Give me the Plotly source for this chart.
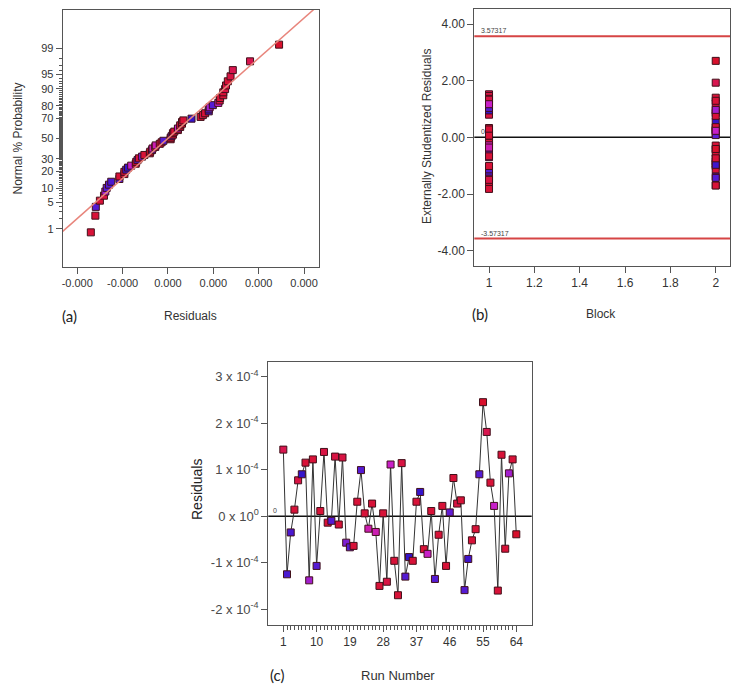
import plotly.graph_objects as go
from statistics import NormalDist, mean, pstdev

# ---------------- data ----------------
runs = list(range(1, 65))
# residuals per run
residuals = [
    1.43e-4, -1.25e-4, -0.35e-4, 0.14e-4, 0.77e-4, 0.90e-4, 1.15e-4, -1.38e-4,
    1.22e-4, -1.07e-4, 0.11e-4, 1.38e-4, -0.14e-4, -0.10e-4, 1.28e-4, -0.18e-4,
    1.26e-4, -0.57e-4, -0.67e-4, -0.64e-4, 0.31e-4, 0.99e-4, 0.06e-4, -0.27e-4,
    0.27e-4, -0.34e-4, -1.50e-4, 0.06e-4, -1.41e-4, 1.11e-4, -0.96e-4, -1.70e-4,
    1.14e-4, -1.30e-4, -0.88e-4, -0.96e-4, 0.31e-4, 0.52e-4, -0.71e-4, -0.81e-4,
    0.11e-4, -1.35e-4, -0.40e-4, 0.22e-4, -1.07e-4, 0.08e-4, 0.82e-4, 0.27e-4,
    0.34e-4, -1.59e-4, -0.92e-4, -0.52e-4, -0.28e-4, 0.90e-4, 2.45e-4, 1.81e-4,
    0.72e-4, 0.22e-4, -1.60e-4, 1.32e-4, -0.70e-4, 0.92e-4, 1.22e-4, -0.39e-4,
]
# externally studentized residuals per run
studentized = [
    1.52, -1.33, -0.37, 0.15, 0.80, 0.95, 1.22, -1.46,
    1.29, -1.13, 0.12, 1.46, -0.15, -0.11, 1.36, -0.19,
    1.33, -0.60, -0.70, -0.67, 0.33, 1.04, 0.06, -0.28,
    0.28, -0.36, -1.59, 0.06, -1.50, 1.17, -1.01, -1.82,
    1.20, -1.38, -0.93, -1.01, 0.33, 0.55, -0.75, -0.85,
    0.12, -1.43, -0.42, 0.23, -1.13, 0.08, 0.86, 0.28,
    0.36, -1.69, -0.97, -0.55, -0.29, 0.95, 2.70, 1.93,
    0.76, 0.23, -1.70, 1.40, -0.74, 0.97, 1.29, -0.41,
]
block = [1] * 32 + [2] * 32
# colour level of each run's marker (0 = blue ... 1 = red)
color_level = [
    0.85, 0.15, 0.15, 0.95, 0.90, 0.05, 0.95, 0.45,
    0.95, 0.20, 0.95, 0.90, 0.95, 0.20, 0.90, 0.95,
    0.90, 0.35, 0.20, 0.95, 0.95, 0.20, 0.95, 0.60,
    0.95, 0.60, 0.95, 0.95, 0.90, 0.55, 0.95, 0.95,
    0.90, 0.20, 0.05, 0.95, 0.95, 0.05, 0.95, 0.55,
    0.95, 0.20, 0.95, 0.95, 0.95, 0.25, 0.95, 0.90,
    0.95, 0.20, 0.10, 0.95, 0.95, 0.20, 1.00, 0.85,
    0.95, 0.55, 0.95, 0.95, 0.95, 0.45, 0.95, 1.00,
]
prob_labels = [1, 5, 10, 20, 30, 50, 70, 80, 90, 95, 99]
prob_minor = list(range(1, 100))
resid_ticks = [-2e-4, -1e-4, 0, 1e-4, 2e-4, 3e-4]
stud_ticks = [-4, -2, 0, 2, 4]
block_ticks = [1, 1.2, 1.4, 1.6, 1.8, 2]
run_ticks = [1, 10, 19, 28, 37, 46, 55, 64]
resid_c_ticks = [-2e-4, -1e-4, 0, 1e-4, 2e-4, 3e-4]
resid_c_text = ["-2 x 10<sup>-4</sup>", "-1 x 10<sup>-4</sup>", "0 x 10<sup>0</sup>",
                "1 x 10<sup>-4</sup>", "2 x 10<sup>-4</sup>", "3 x 10<sup>-4</sup>"]
limit = 3.57317

# ---------------- derived (normal probability scale) ----------------
nd = NormalDist()
n = len(residuals)
order = sorted(range(n), key=lambda i: residuals[i])
sorted_res = [residuals[i] for i in order]
sorted_col = [color_level[i] for i in order]
z_vals = [nd.inv_cdf((k + 0.5) / n) for k in range(n)]
prob_tickvals = [nd.inv_cdf(p / 100) for p in prob_labels]
minor_vals = [nd.inv_cdf(p / 100) for p in prob_minor]
mu, sd = mean(residuals), pstdev(residuals)

# page body has an 8px margin: work in window pixel coordinates
OFF = 8
W, H = 743 - 2 * OFF, 693 - 2 * OFF
def fx(x): return (x - OFF) / W
def fy(y): return 1 - (y - OFF) / H

cs = [[0, "#2a12c8"], [0.3, "#6a1fd8"], [0.55, "#c81fc8"], [0.8, "#d8185a"], [1, "#d8102c"]]
FONT = "Liberation Sans, Arial, sans-serif"
mk = dict(symbol="square", size=7, colorscale=cs, cmin=0, cmax=1,
          line=dict(color="#40101a", width=1))

fig = go.Figure()

# (a) normal probability plot (reference line drawn on the minor-tick overlay axis, same range)
xa_rng = [-2.32e-4, 3.33e-4]
fig.add_trace(go.Scatter(
    x=xa_rng, y=[(v - mu) / sd for v in xa_rng], mode="lines",
    line=dict(color="#e8857c", width=1.5), xaxis="x", yaxis="y4", hoverinfo="skip"))
fig.add_trace(go.Scatter(
    x=sorted_res, y=z_vals, mode="markers",
    marker=dict(mk, color=sorted_col), xaxis="x", yaxis="y"))

# (b) studentized vs block
fig.add_trace(go.Scatter(
    x=block, y=studentized, mode="markers",
    marker=dict(mk, color=color_level), xaxis="x2", yaxis="y2"))

# (c) residuals vs run (on the minor-tick overlay x axis, same range as x3)
fig.add_trace(go.Scatter(
    x=runs, y=residuals, mode="lines+markers",
    line=dict(color="#333333", width=1),
    marker=dict(mk, color=color_level), xaxis="x5", yaxis="y3"))

ax_common = dict(showline=True, mirror=True, linecolor="#555555", linewidth=1,
                 showgrid=False, zeroline=False, ticks="outside", ticklen=6,
                 tickcolor="#555555", tickfont=dict(family=FONT, size=11, color="#333333"))
minor_ax = dict(showline=False, showgrid=False, zeroline=False, ticks="outside",
                tickcolor="#555555", showticklabels=False, tickmode="array")

dom_a_x, dom_a_y = [fx(62.7), fx(319)], [fy(267), fy(10)]
dom_b_x, dom_b_y = [fx(474.3), fx(730)], [fy(265.7), fy(9.3)]
dom_c_x, dom_c_y = [fx(268.3), fx(531.7)], [fy(625), fy(361.7)]
ya_rng = [-3.31, 3.31]
xc_rng = [-3.06, 68.16]

fig.update_layout(
    width=W, height=H, margin=dict(l=0, r=0, t=0, b=0),
    paper_bgcolor="white", plot_bgcolor="white", showlegend=False,
    font=dict(family=FONT, color="#333333"),
    xaxis=dict(ax_common, domain=dom_a_x, range=xa_rng, anchor="y",
               tickmode="array", tickvals=resid_ticks,
               ticktext=[f"{v:.3f}" for v in resid_ticks]),
    yaxis=dict(ax_common, domain=dom_a_y, range=ya_rng, anchor="x",
               tickmode="array", tickvals=prob_tickvals, ticktext=[str(p) for p in prob_labels]),
    yaxis4=dict(minor_ax, overlaying="y", anchor="x", side="left", range=ya_rng,
                tickvals=minor_vals, ticklen=3),
    xaxis2=dict(ax_common, domain=dom_b_x, range=[0.935, 2.063], anchor="y2",
                tickmode="array", tickvals=block_ticks, ticktext=[f"{v:g}" for v in block_ticks],
                tickfont=dict(family=FONT, size=12, color="#333333")),
    yaxis2=dict(ax_common, domain=dom_b_y, range=[-4.53, 4.52], anchor="x2",
                tickmode="array", tickvals=stud_ticks, ticktext=[f"{v:.2f}" for v in stud_ticks],
                tickfont=dict(family=FONT, size=12, color="#333333")),
    xaxis3=dict(ax_common, domain=dom_c_x, range=xc_rng, anchor="y3", ticklen=6,
                tickmode="array", tickvals=run_ticks, ticktext=[str(v) for v in run_ticks],
                tickfont=dict(family=FONT, size=12, color="#333333")),
    xaxis5=dict(minor_ax, overlaying="x3", anchor="y3", side="bottom", range=xc_rng,
                tickvals=runs, ticklen=4),
    yaxis3=dict(ax_common, domain=dom_c_y, range=[-2.34e-4, 3.32e-4], anchor="x3",
                tickmode="array", tickvals=resid_c_ticks, ticktext=resid_c_text,
                tickfont=dict(family=FONT, size=13, color="#4a4a4a")),
)

# reference lines
fig.add_shape(type="line", xref="x2 domain", yref="y2", x0=0, x1=1, y0=limit, y1=limit,
              line=dict(color="#d64545", width=2))
fig.add_shape(type="line", xref="x2 domain", yref="y2", x0=0, x1=1, y0=-limit, y1=-limit,
              line=dict(color="#d64545", width=2))
fig.add_shape(type="line", xref="x2 domain", yref="y2", x0=0, x1=1, y0=0, y1=0,
              line=dict(color="#111111", width=1.5), layer="below")
fig.add_shape(type="line", xref="x3 domain", yref="y3", x0=0, x1=1, y0=0, y1=0,
              line=dict(color="#111111", width=1.5), layer="below")

small = dict(family=FONT, size=7, color="#444444")
fig.add_annotation(x=0.955, y=limit, xref="x2", yref="y2", text=f"{limit:.5f}",
                   showarrow=False, xanchor="left", yanchor="bottom", font=small)
fig.add_annotation(x=0.955, y=-limit, xref="x2", yref="y2", text=f"{-limit:.5f}",
                   showarrow=False, xanchor="left", yanchor="bottom", font=small)
fig.add_annotation(x=0.955, y=0, xref="x2", yref="y2", text="0",
                   showarrow=False, xanchor="left", yanchor="bottom", font=small)
fig.add_annotation(x=-2.2, y=0, xref="x3", yref="y3", text="0",
                   showarrow=False, xanchor="left", yanchor="bottom", font=small)

def label(text, x, y, size=12, angle=0, family=FONT, color="#333333"):
    fig.add_annotation(x=fx(x), y=fy(y), xref="paper", yref="paper", text=text,
                       showarrow=False, textangle=angle, xanchor="center", yanchor="middle",
                       font=dict(family=family, size=size, color=color))

label("Normal % Probability", 17, 138.5, 12, -90)
label("Residuals", 190, 316, 12)
label("(a)", 69, 316, 15, family="Lato, sans-serif", color="#222222")
label("Externally Studentized Residuals", 427, 137, 12, -90)
label("Block", 601, 314, 12)
label("(b)", 480, 314, 15, family="Lato, sans-serif", color="#222222")
label("Residuals", 197, 490, 14, -90, color="#222222")
label("Run Number", 398, 675, 13)
label("(c)", 277, 675, 15, family="Lato, sans-serif", color="#222222")

fig.write_html("out.html")
